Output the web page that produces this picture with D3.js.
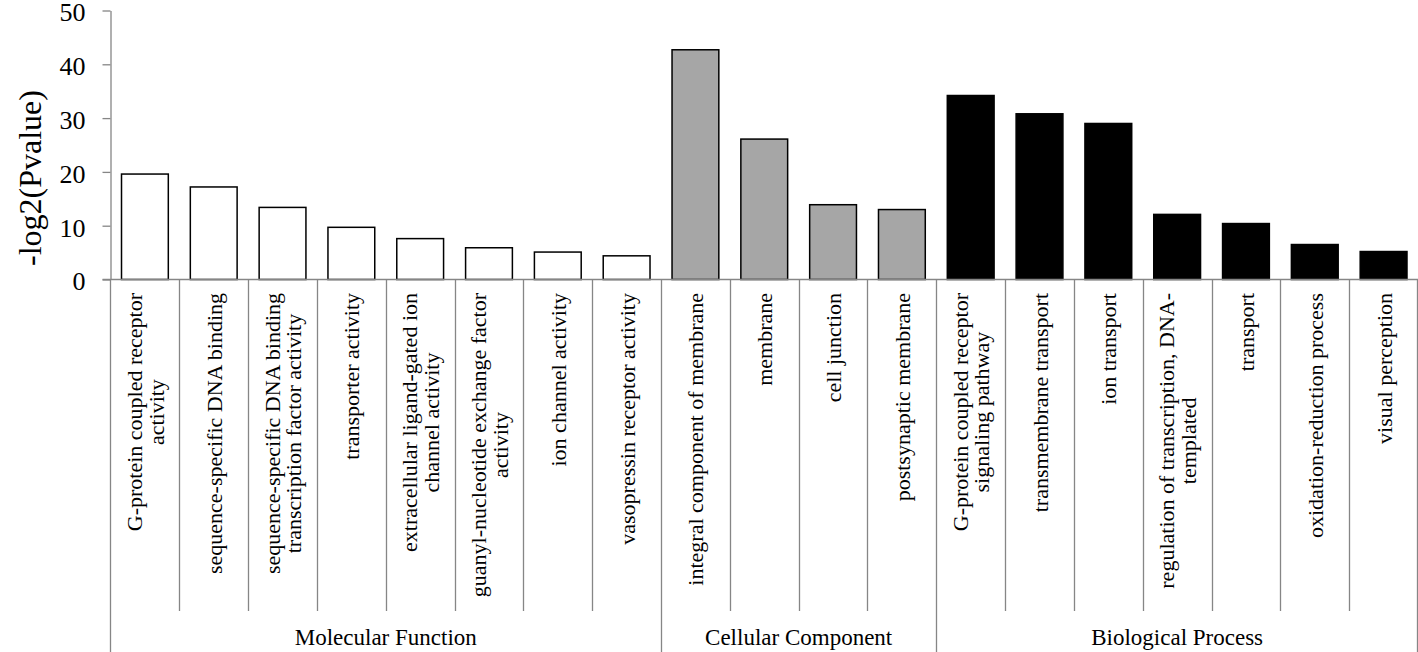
<!DOCTYPE html>
<html>
<head>
<meta charset="utf-8">
<script src="https://cdn.jsdelivr.net/npm/d3@7"></script>
<style>
  html, body { margin: 0; padding: 0; background: #fff; }
  svg { display: block; font-family: "Liberation Serif", "Times New Roman", serif; }
  svg text { font-family: "Liberation Serif", "Times New Roman", serif; fill: #000; }
</style>
</head>
<body>
<script>
// ---------- DATA ----------
const categories = [
  "G-protein coupled receptor activity",
  "sequence-specific DNA binding",
  "sequence-specific DNA binding transcription factor activity",
  "transporter activity",
  "extracellular ligand-gated ion channel activity",
  "guanyl-nucleotide exchange factor activity",
  "ion channel activity",
  "vasopressin receptor activity",
  "integral component of membrane",
  "membrane",
  "cell junction",
  "postsynaptic membrane",
  "G-protein coupled receptor signaling pathway",
  "transmembrane transport",
  "ion transport",
  "regulation of transcription, DNA-templated",
  "transport",
  "oxidation-reduction process",
  "visual perception"
];
// label lines as wrapped in the picture
const labelLines = [
  ["G-protein coupled receptor", "activity"],
  ["sequence-specific DNA binding"],
  ["sequence-specific DNA binding", "transcription factor activity"],
  ["transporter activity"],
  ["extracellular ligand-gated ion", "channel activity"],
  ["guanyl-nucleotide exchange factor", "activity"],
  ["ion channel activity"],
  ["vasopressin receptor activity"],
  ["integral component of membrane"],
  ["membrane"],
  ["cell junction"],
  ["postsynaptic membrane"],
  ["G-protein coupled receptor", "signaling pathway"],
  ["transmembrane transport"],
  ["ion transport"],
  ["regulation of transcription, DNA-", "templated"],
  ["transport"],
  ["oxidation-reduction process"],
  ["visual perception"]
];
const values = [19.6, 17.2, 13.4, 9.7, 7.6, 5.9, 5.1, 4.4,
                42.7, 26.1, 13.9, 13.0,
                34.2, 30.8, 29.0, 12.1, 10.4, 6.5, 5.2];
const groups = ["Molecular Function", "Cellular Component", "Biological Process"];
const groupSizes = [8, 4, 7];
const yTicks = [0, 10, 20, 30, 40, 50];
const yTitle = "-log2(Pvalue)";

// ---------- STYLE ----------
const W = 1418, H = 652;
const plotLeft = 110.5, plotRight = 1418, plotTop = 10.5, plotBase = 279.5;
const axisColor = "#868686";
const groupFill = ["#ffffff", "#a6a6a6", "#000000"];

const svg = d3.select("body").append("svg").attr("width", W).attr("height", H);

const cell = d3.scaleBand().domain(categories).range([plotLeft, plotRight]).padding(0);
const xBar = d3.scaleBand().domain(categories).range([plotLeft, plotRight])
  .paddingInner(0.32).paddingOuter(0.16);
const y = d3.scaleLinear().domain([0, 50]).range([plotBase, plotTop]);

// group index per category
const groupIdx = [];
groupSizes.forEach((n, g) => { for (let i = 0; i < n; i++) groupIdx.push(g); });

// ---------- Y AXIS ----------
const yAxis = d3.axisLeft(y).tickValues(yTicks).tickSize(8).tickSizeOuter(0).tickPadding(17);
const gy = svg.append("g").attr("transform", `translate(${plotLeft},0)`).call(yAxis)
  .attr("font-family", null).attr("font-size", null);
gy.select(".domain").attr("stroke", axisColor).attr("stroke-width", 1.3);
gy.selectAll(".tick line").attr("stroke", axisColor).attr("stroke-width", 1.3);
gy.selectAll(".tick text").attr("fill", "#000").attr("dy", "0.4em").style("font-size", "26px");

svg.append("text")
  .attr("transform", `translate(41,178) rotate(-90)`)
  .attr("text-anchor", "middle")
  .style("font-size", "32px")
  .text(yTitle);

// ---------- BARS ----------
svg.append("g").selectAll("rect").data(categories).join("rect")
  .attr("x", d => xBar(d))
  .attr("width", xBar.bandwidth())
  .attr("y", (d, i) => y(values[i]))
  .attr("height", (d, i) => y(0) - y(values[i]))
  .attr("fill", (d, i) => groupFill[groupIdx[i]])
  .attr("stroke", "#000")
  .attr("stroke-width", 1.5);

// ---------- X AXIS (category area) ----------
const axisG = svg.append("g").attr("stroke", axisColor).attr("stroke-width", 1.3);
axisG.append("line").attr("x1", plotLeft - 8).attr("x2", plotRight).attr("y1", plotBase).attr("y2", plotBase);
axisG.append("line").attr("x1", plotLeft).attr("x2", plotLeft).attr("y1", plotBase).attr("y2", H);

// group boundaries (cumulative)
const groupStart = [];
let acc = 0;
groupSizes.forEach(n => { groupStart.push(acc); acc += n; });
const boundaryIdx = new Set([...groupStart, categories.length]);

for (let i = 1; i <= categories.length; i++) {
  const xx = i < categories.length ? Math.round(cell(categories[i])) + 0.5 : plotRight - 0.5;
  const full = boundaryIdx.has(i);
  axisG.append("line").attr("x1", xx).attr("x2", xx)
    .attr("y1", plotBase).attr("y2", full ? H : 611);
}

// category labels
const labelTop = 293, fs = 22, lh = 21.5;
categories.forEach((c, i) => {
  const cx = cell(c) + cell.bandwidth() / 2;
  const lines = labelLines[i];
  const g = svg.append("g").attr("transform", `translate(${cx},${labelTop}) rotate(-90)`);
  const texts = lines.map((ln, k) => g.append("text")
    .attr("text-anchor", "middle")
    .attr("y", (k - (lines.length - 1) / 2) * lh + 8)
    .style("font-size", fs + "px")
    .text(ln));
  const maxL = d3.max(texts, t => t.node().getComputedTextLength());
  texts.forEach(t => t.attr("x", -maxL / 2));
});

// group labels
groups.forEach((gname, gi) => {
  const s = groupStart[gi], e = s + groupSizes[gi];
  const x0 = cell(categories[s]);
  const x1 = e < categories.length ? cell(categories[e]) : plotRight;
  svg.append("text")
    .attr("x", (x0 + x1) / 2)
    .attr("y", 645)
    .attr("text-anchor", "middle")
    .style("font-size", "23px")
    .text(gname);
});
</script>
</body>
</html>
